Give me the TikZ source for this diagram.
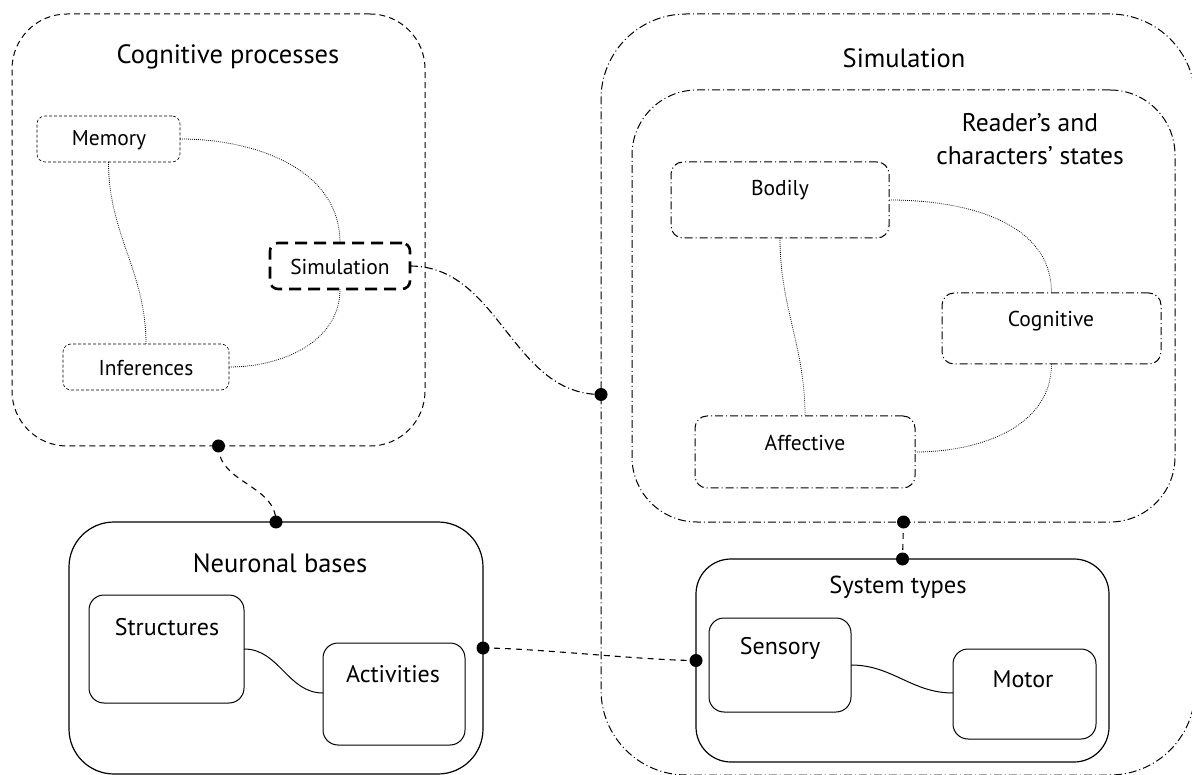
\documentclass[tikz,border=0pt]{standalone}
\usepackage{fontspec}
\setmainfont{PT Sans}
\usetikzlibrary{fit}
\begin{document}
\begin{tikzpicture}[x=1pt,y=-1pt,
  every node/.style={inner sep=0pt, outer sep=0pt},
  ttl/.style={font=\fontsize{26.5}{33}\selectfont, align=center},
  mid/.style={font=\fontsize{24}{28}\selectfont},
  sml/.style={font=\fontsize{21.5}{25}\selectfont},
  cogbox/.style={draw, rounded corners=55pt, line width=1pt, dash pattern=on 6pt off 4pt},
  procbox/.style={draw, rounded corners=8pt, line width=0.6pt, dash pattern=on 3pt off 2pt},
  simnode/.style={draw, rounded corners=8pt, line width=2.6pt, dash pattern=on 12pt off 7pt},
  dashdot/.style={draw, line width=1pt, dash pattern=on 8pt off 3pt on 1pt off 3pt},
  solidbox/.style={draw, line width=1.2pt},
  innerbox/.style={draw, line width=1pt, rounded corners=15pt},
  dotline/.style={line width=0.8pt, dash pattern=on 0.8pt off 1.2pt},
  dashline/.style={line width=1.1pt, dash pattern=on 6pt off 5pt},
  dot/.style={circle, fill=black, minimum size=13pt}
]
\useasboundingbox (0,0) rectangle (1192,775);

% ---------- Cognitive processes ----------
\node[cogbox, fit={(12,14)(425,446)}] (cog) {};
\node[ttl] (cogt) at (228,57) {Cognitive processes};
\node[procbox, fit={(37,116)(180,162)}] (mem) {};
\node[sml] (memt) at (109,140) {Memory};
\node[procbox, fit={(63,344)(229,390)}] (inf) {};
\node[sml] (inft) at (146,368) {Inferences};
\node[simnode, fit={(270,243)(410,289)}] (sim) {};
\node[sml] (simt) at (340,267) {Simulation};

\draw[dotline] (mem.east) to[out=0,in=90] (sim.north);
\draw[dotline] (mem.south) to[out=-90,in=90] (inf.north);
\draw[dotline] (inf.east) to[out=0,in=-90] (sim.south);

% ---------- Neuronal bases ----------
\node[solidbox, rounded corners=45pt, fit={(69,522)(483,774)}] (neu) {};
\node[ttl] (neut) at (280,563) {Neuronal bases};
\node[innerbox, fit={(89,595)(244,703)}] (str) {};
\node[mid] (strt) at (167,627) {Structures};
\node[innerbox, fit={(323,643)(465,745)}] (act) {};
\node[mid] (actt) at (393,674) {Activities};
\draw[line width=1pt] (str.east |- 0,649) to[out=0,in=180] (act.west |- 0,693);

% ---------- Simulation (big) ----------
\node[dashdot, rounded corners=85pt, fit={(601,14)(1195,775)}] (big) {};
\node[ttl] (bigt) at (904,58) {Simulation};
\node[dashdot, rounded corners=65pt, fit={(632,90)(1175,522)}] (rdr) {};
\node[ttl, font=\fontsize{25.5}{33}\selectfont] (rdrt) at (1030,139) {Reader’s and\\characters’ states};
\node[dashdot, rounded corners=12pt, fit={(671,162)(889,238)}] (bod) {};
\node[sml] (bodt) at (780,190) {Bodily};
\node[dashdot, rounded corners=12pt, fit={(942,293)(1161,364)}] (cgn) {};
\node[sml] (cgnt) at (1051,321) {Cognitive};
\node[dashdot, rounded corners=12pt, fit={(695,416)(915,488)}] (aff) {};
\node[sml] (afft) at (805,443) {Affective};

\draw[dotline] (bod.east) to[out=0,in=90] (cgn.north);
\draw[dotline] (bod.south) to[out=-90,in=90] (aff.north);
\draw[dotline] (aff.east) to[out=0,in=-90] (cgn.south);

% ---------- System types ----------
\node[solidbox, rounded corners=35pt, fit={(696,559)(1109,762)}] (sys) {};
\node[ttl, font=\fontsize{24.5}{28}\selectfont] (syst) at (898,587) {System types};
\node[innerbox, fit={(709,618)(851,712)}] (sen) {};
\node[mid] (sent) at (780,648) {Sensory};
\node[innerbox, fit={(953,649)(1096,739)}] (mot) {};
\node[mid] (mott) at (1023,679) {Motor};
\draw[line width=1pt] (sen.east |- 0,665) to[out=0,in=180] (mot.west |- 0,693);

% ---------- connectors between groups ----------
\draw[dashdot, line width=1.1pt] (sim.east) to[out=0,in=180] (big.west);
\draw[dashline] (cog.south) to[out=-90,in=90] (neu.north);
\draw[dashline] (rdr.south) -- (sys.north);
\draw[dashline] (neu.east) to[out=0,in=180, looseness=0.6] (sys.west);

\node[dot] (d1) at (cog.south) {};
\node[dot] (d2) at (neu.north) {};
\node[dot] (d3) at (big.west) {};
\node[dot] (d4) at (rdr.south) {};
\node[dot] (d5) at (sys.north) {};
\node[dot] (d6) at (neu.east) {};
\node[dot] (d7) at (sys.west) {};
\end{tikzpicture}
\end{document}
